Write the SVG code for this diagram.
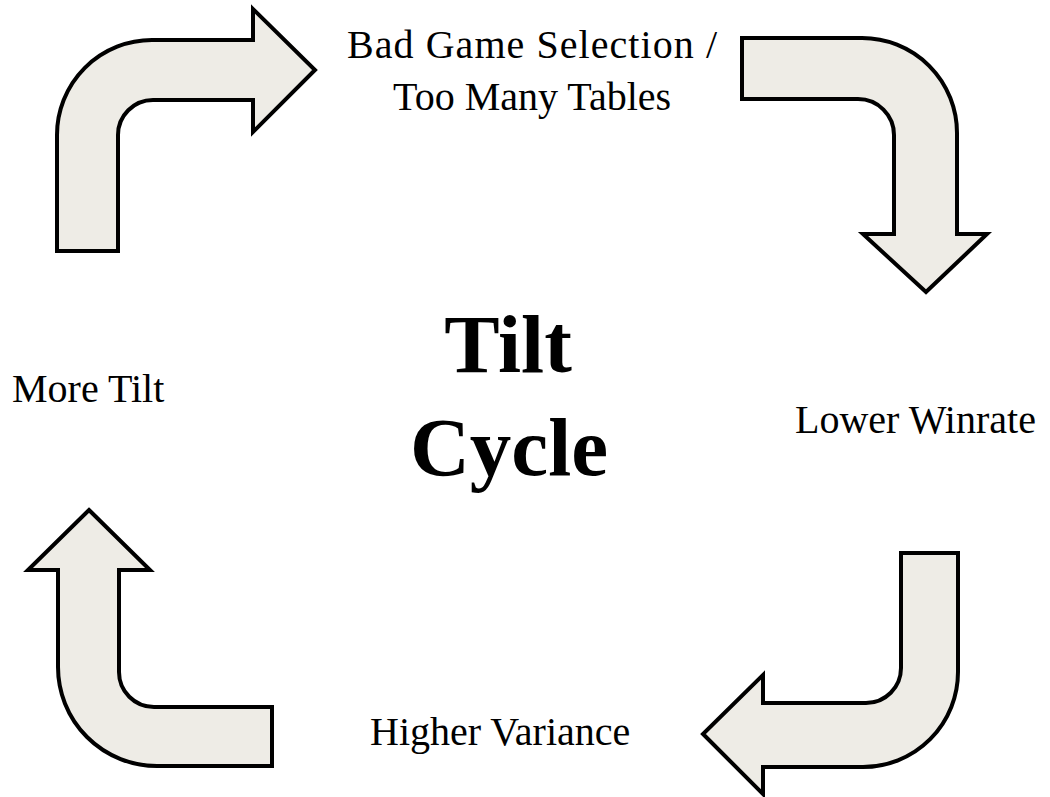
<svg xmlns="http://www.w3.org/2000/svg" width="1050" height="797" viewBox="0 0 1050 797">
<style>
.arrow{fill:#EEECE6;stroke:#000;stroke-width:4;stroke-linejoin:miter}
.lbl{font-family:"Liberation Serif","Times New Roman",serif;font-size:40px;fill:#000}
.title{font-family:"Liberation Serif","Times New Roman",serif;font-size:83px;font-weight:bold;fill:#000;text-anchor:middle}
</style>
<rect width="1050" height="797" fill="#fff"/>
<g id="connectors">
<path id="arrow-top-left" class="arrow" d="M57,251 L57,135 A95,95 0 0 1 152,40 L253,40 L253,9 L315,70 L253,132 L253,100 L153,100 A35,35 0 0 0 118,135 L118,251 Z"/>
<path id="arrow-top-right" class="arrow" d="M742,38 L862,38 A95,95 0 0 1 957,133 L957,234 L987,234 L926,292 L863,234 L894,234 L894,135 A36,36 0 0 0 858,99 L742,99 Z"/>
<path id="arrow-bottom-right" class="arrow" d="M901,553 L958,553 L958,672 A95,95 0 0 1 863,767 L763,767 L763,794 L703,734 L763,675 L763,703 L866,703 A35,35 0 0 0 901,668 Z"/>
<path id="arrow-bottom-left" class="arrow" d="M89,510 L150,570 L119,570 L119,672 A35,35 0 0 0 154,707 L272,707 L272,766 L157,766 A99,99 0 0 1 58,667 L58,570 L28,570 Z"/>
</g>
<g id="node-title">
<text class="title" x="508" y="372">Tilt</text>
<text class="title" x="509" y="475">Cycle</text>
</g>
<g id="node-bad-game">
<text class="lbl" x="347" y="58" textLength="370" lengthAdjust="spacing">Bad Game Selection /</text>
<text class="lbl" x="393" y="110">Too Many Tables</text>
</g>
<g id="node-lower-winrate">
<text class="lbl" x="795" y="433">Lower Winrate</text>
</g>
<g id="node-higher-variance">
<text class="lbl" x="370" y="745">Higher Variance</text>
</g>
<g id="node-more-tilt">
<text class="lbl" x="12" y="402">More Tilt</text>
</g>
</svg>
